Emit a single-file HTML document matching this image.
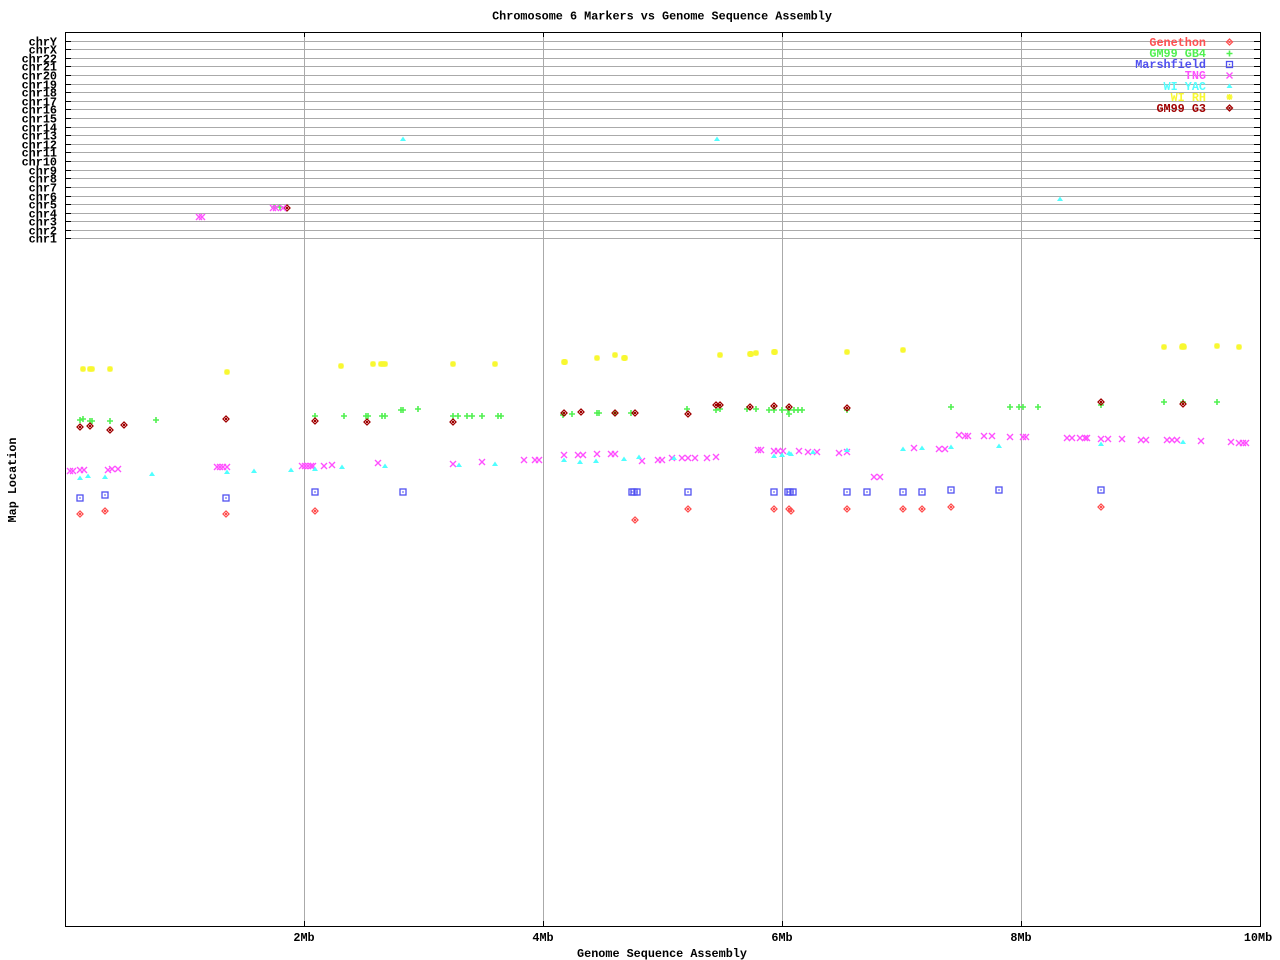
<!DOCTYPE html>
<html><head><meta charset="utf-8"><style>
html,body{margin:0;padding:0;background:#fff;}
svg{display:block;}
text{font-family:"Liberation Mono",monospace;font-size:11.8px;font-weight:600;}
</style></head><body>
<svg width="1280" height="960" viewBox="0 0 1280 960" xmlns="http://www.w3.org/2000/svg">
<defs>
<g id="dia"><path d="M0,-3 L3,0 L0,3 L-3,0Z" fill="none" stroke-width="1.3"/><rect x="-1" y="-1" width="2" height="2" stroke="none"/></g>
<g id="pl"><path d="M-3,0 H3 M0,-3 V3" fill="none" stroke-width="1.6"/></g>
<g id="sq"><rect x="-3" y="-3" width="6" height="6" fill="none" stroke-width="1.3"/><rect x="-0.7" y="-0.7" width="1.4" height="1.4" stroke="none"/></g>
<g id="xx"><path d="M-3,-3 L3,3 M3,-3 L-3,3" fill="none" stroke-width="1.4"/></g>
<g id="tr"><path d="M0,-2.5 L3,2 L-3,2Z" stroke="none"/></g>
<g id="st"><path d="M-3,0 H3 M0,-3 V3 M-2.3,-2.3 L2.3,2.3 M2.3,-2.3 L-2.3,2.3" fill="none" stroke-width="1.5"/></g>
</defs>
<rect width="1280" height="960" fill="#fff"/>
<text x="662" y="19.5" text-anchor="middle">Chromosome 6 Markers vs Genome Sequence Assembly</text>

<g stroke="#aaaaaa" stroke-width="1">
<path d="M65,41.5H1260M65,49.5H1260M65,58.5H1260M65,66.5H1260M65,75.5H1260M65,84.5H1260M65,92.5H1260M65,101.5H1260M65,109.5H1260M65,118.5H1260M65,127.5H1260M65,135.5H1260M65,144.5H1260M65,152.5H1260M65,161.5H1260M65,170.5H1260M65,178.5H1260M65,187.5H1260M65,196.5H1260M65,204.5H1260M65,213.5H1260M65,221.5H1260M65,230.5H1260M65,238.5H1260"/>
<path d="M304.5,32V926M543.5,32V926M782.5,32V926M1021.5,32V926"/>
</g>
<g stroke="#000" stroke-width="1">
<rect x="65.5" y="32.5" width="1195" height="894" fill="none"/>
<path d="M65,41.5H71M65,49.5H71M65,58.5H71M65,66.5H71M65,75.5H71M65,84.5H71M65,92.5H71M65,101.5H71M65,109.5H71M65,118.5H71M65,127.5H71M65,135.5H71M65,144.5H71M65,152.5H71M65,161.5H71M65,170.5H71M65,178.5H71M65,187.5H71M65,196.5H71M65,204.5H71M65,213.5H71M65,221.5H71M65,230.5H71M65,238.5H71"/>
<path d="M1254,41.5H1260M1254,49.5H1260M1254,58.5H1260M1254,66.5H1260M1254,75.5H1260M1254,84.5H1260M1254,92.5H1260M1254,101.5H1260M1254,109.5H1260M1254,118.5H1260M1254,127.5H1260M1254,135.5H1260M1254,144.5H1260M1254,152.5H1260M1254,161.5H1260M1254,170.5H1260M1254,178.5H1260M1254,187.5H1260M1254,196.5H1260M1254,204.5H1260M1254,213.5H1260M1254,221.5H1260M1254,230.5H1260M1254,238.5H1260"/>
<path d="M304.5,32V37M543.5,32V37M782.5,32V37M1021.5,32V37M304.5,921V926M543.5,921V926M782.5,921V926M1021.5,921V926"/>
</g>
<g text-anchor="end">
<text x="57" y="45.5">chrY</text><text x="57" y="53.5">chrX</text><text x="57" y="62.5">chr22</text><text x="57" y="70.5">chr21</text><text x="57" y="79.5">chr20</text><text x="57" y="88.5">chr19</text><text x="57" y="96.5">chr18</text><text x="57" y="105.5">chr17</text><text x="57" y="113.5">chr16</text><text x="57" y="122.5">chr15</text><text x="57" y="131.5">chr14</text><text x="57" y="139.5">chr13</text><text x="57" y="148.5">chr12</text><text x="57" y="156.5">chr11</text><text x="57" y="165.5">chr10</text><text x="57" y="174.5">chr9</text><text x="57" y="182.5">chr8</text><text x="57" y="191.5">chr7</text><text x="57" y="200.5">chr6</text><text x="57" y="208.5">chr5</text><text x="57" y="217.5">chr4</text><text x="57" y="225.5">chr3</text><text x="57" y="234.5">chr2</text><text x="57" y="242.5">chr1</text>
</g>
<g text-anchor="middle">
<text x="304" y="941">2Mb</text><text x="543" y="941">4Mb</text><text x="782" y="941">6Mb</text><text x="1021" y="941">8Mb</text><text x="1258" y="941">10Mb</text>
<text x="662" y="957">Genome Sequence Assembly</text>
<text x="0" y="0" transform="translate(16,480) rotate(-90)">Map Location</text>
</g>

<!-- Legend -->
<g text-anchor="end">
<text x="1206" y="46" fill="#ff5050">Genethon</text>
<text x="1206" y="57" fill="#50f050">GM99 GB4</text>
<text x="1206" y="68" fill="#5050f0">Marshfield</text>
<text x="1206" y="79" fill="#ff50ff">TNG</text>
<text x="1206" y="90" fill="#50ffff">WI YAC</text>
<text x="1206" y="101" fill="#f8f830">WI RH</text>
<text x="1206" y="112" fill="#a00000">GM99 G3</text>
</g>
<use href="#dia" x="1229.5" y="42" stroke="#ff5050" fill="#ff5050"/>
<use href="#pl" x="1229.5" y="53.5" stroke="#50f050"/>
<use href="#sq" x="1229.5" y="64.5" stroke="#5050f0" fill="#5050f0"/>
<use href="#xx" x="1229.5" y="75.5" stroke="#ff50ff"/>
<use href="#tr" x="1229.5" y="86" fill="#50ffff"/>
<use href="#st" x="1229.5" y="97" stroke="#f8f830"/>
<use href="#dia" x="1229.5" y="108" stroke="#a00000" fill="#a00000"/>

<!-- WI RH yellow -->
<g stroke="#f8f830">
<use href="#st" x="83" y="369"/><use href="#st" x="90" y="369"/><use href="#st" x="92" y="369"/><use href="#st" x="110" y="369"/><use href="#st" x="227" y="372"/><use href="#st" x="341" y="366"/><use href="#st" x="373" y="364"/><use href="#st" x="381" y="364"/><use href="#st" x="383" y="364"/><use href="#st" x="385" y="364"/><use href="#st" x="453" y="364"/><use href="#st" x="495" y="364"/><use href="#st" x="564" y="362"/><use href="#st" x="565" y="362"/><use href="#st" x="597" y="358"/><use href="#st" x="615" y="355"/><use href="#st" x="624" y="358"/><use href="#st" x="625" y="358"/><use href="#st" x="720" y="355"/><use href="#st" x="750" y="354"/><use href="#st" x="751" y="354"/><use href="#st" x="756" y="353"/><use href="#st" x="774" y="352"/><use href="#st" x="775" y="352"/><use href="#st" x="847" y="352"/><use href="#st" x="903" y="350"/><use href="#st" x="1164" y="347"/><use href="#st" x="1182" y="347"/><use href="#st" x="1184" y="347"/><use href="#st" x="1183" y="346"/><use href="#st" x="1217" y="346"/><use href="#st" x="1239" y="347"/>
</g>

<!-- GM99 GB4 green -->
<g stroke="#50f050">
<use href="#pl" x="80" y="420"/><use href="#pl" x="83" y="419"/><use href="#pl" x="90" y="421"/><use href="#pl" x="92" y="421"/><use href="#pl" x="110" y="421"/><use href="#pl" x="156" y="420"/><use href="#pl" x="315" y="416"/><use href="#pl" x="344" y="416"/><use href="#pl" x="366" y="416"/><use href="#pl" x="368" y="416"/><use href="#pl" x="382" y="416"/><use href="#pl" x="385" y="416"/><use href="#pl" x="401" y="410"/><use href="#pl" x="403" y="410"/><use href="#pl" x="418" y="409"/><use href="#pl" x="453" y="416"/><use href="#pl" x="458" y="416"/><use href="#pl" x="467" y="416"/><use href="#pl" x="472" y="416"/><use href="#pl" x="482" y="416"/><use href="#pl" x="498" y="416"/><use href="#pl" x="501" y="416"/><use href="#pl" x="563" y="415"/><use href="#pl" x="572" y="414"/><use href="#pl" x="597" y="413"/><use href="#pl" x="599" y="413"/><use href="#pl" x="615" y="413"/><use href="#pl" x="631" y="413"/><use href="#pl" x="687" y="409"/><use href="#pl" x="716" y="410"/><use href="#pl" x="720" y="409"/><use href="#pl" x="747" y="409"/><use href="#pl" x="756" y="409"/><use href="#pl" x="769" y="410"/><use href="#pl" x="774" y="410"/><use href="#pl" x="782" y="410"/><use href="#pl" x="788" y="410"/><use href="#pl" x="794" y="410"/><use href="#pl" x="798" y="410"/><use href="#pl" x="802" y="410"/><use href="#pl" x="789" y="414"/><use href="#pl" x="847" y="410"/><use href="#pl" x="951" y="407"/><use href="#pl" x="1010" y="407"/><use href="#pl" x="1019" y="407"/><use href="#pl" x="1023" y="407"/><use href="#pl" x="1038" y="407"/><use href="#pl" x="1101" y="405"/><use href="#pl" x="1164" y="402"/><use href="#pl" x="1183" y="402"/><use href="#pl" x="1217" y="402"/>
<use href="#pl" x="274" y="207"/><use href="#pl" x="280" y="207"/>
</g>

<!-- GM99 G3 dark red -->
<g stroke="#a00000" fill="#a00000">
<use href="#dia" x="80" y="427"/><use href="#dia" x="90" y="426"/><use href="#dia" x="110" y="430"/><use href="#dia" x="124" y="425"/><use href="#dia" x="226" y="419"/><use href="#dia" x="315" y="421"/><use href="#dia" x="367" y="422"/><use href="#dia" x="453" y="422"/><use href="#dia" x="564" y="413"/><use href="#dia" x="581" y="412"/><use href="#dia" x="615" y="413"/><use href="#dia" x="635" y="413"/><use href="#dia" x="688" y="414"/><use href="#dia" x="716" y="405"/><use href="#dia" x="720" y="405"/><use href="#dia" x="750" y="407"/><use href="#dia" x="774" y="406"/><use href="#dia" x="789" y="407"/><use href="#dia" x="847" y="408"/><use href="#dia" x="1101" y="402"/><use href="#dia" x="1183" y="404"/>
<use href="#dia" x="287" y="208"/>
</g>

<!-- TNG magenta -->
<g stroke="#ff50ff">
<use href="#xx" x="70" y="471"/><use href="#xx" x="73" y="471"/><use href="#xx" x="80" y="470"/><use href="#xx" x="84" y="470"/><use href="#xx" x="108" y="470"/><use href="#xx" x="112" y="469"/><use href="#xx" x="118" y="469"/><use href="#xx" x="217" y="467"/><use href="#xx" x="220" y="467"/><use href="#xx" x="223" y="467"/><use href="#xx" x="227" y="467"/><use href="#xx" x="302" y="466"/><use href="#xx" x="305" y="466"/><use href="#xx" x="308" y="466"/><use href="#xx" x="311" y="466"/><use href="#xx" x="313" y="466"/><use href="#xx" x="324" y="466"/><use href="#xx" x="332" y="465"/><use href="#xx" x="378" y="463"/><use href="#xx" x="453" y="464"/><use href="#xx" x="482" y="462"/><use href="#xx" x="524" y="460"/><use href="#xx" x="535" y="460"/><use href="#xx" x="539" y="460"/><use href="#xx" x="564" y="455"/><use href="#xx" x="578" y="455"/><use href="#xx" x="583" y="455"/><use href="#xx" x="597" y="454"/><use href="#xx" x="611" y="454"/><use href="#xx" x="615" y="454"/><use href="#xx" x="642" y="461"/><use href="#xx" x="658" y="460"/><use href="#xx" x="662" y="460"/><use href="#xx" x="672" y="458"/><use href="#xx" x="682" y="458"/><use href="#xx" x="688" y="458"/><use href="#xx" x="695" y="458"/><use href="#xx" x="707" y="458"/><use href="#xx" x="716" y="457"/><use href="#xx" x="758" y="450"/><use href="#xx" x="761" y="450"/><use href="#xx" x="774" y="451"/><use href="#xx" x="778" y="451"/><use href="#xx" x="783" y="451"/><use href="#xx" x="799" y="451"/><use href="#xx" x="808" y="452"/><use href="#xx" x="817" y="452"/><use href="#xx" x="839" y="453"/><use href="#xx" x="847" y="452"/><use href="#xx" x="874" y="477"/><use href="#xx" x="880" y="477"/><use href="#xx" x="914" y="448"/><use href="#xx" x="939" y="449"/><use href="#xx" x="945" y="449"/><use href="#xx" x="959" y="435"/><use href="#xx" x="965" y="436"/><use href="#xx" x="968" y="436"/><use href="#xx" x="984" y="436"/><use href="#xx" x="992" y="436"/><use href="#xx" x="1010" y="437"/><use href="#xx" x="1023" y="437"/><use href="#xx" x="1026" y="437"/><use href="#xx" x="1067" y="438"/><use href="#xx" x="1072" y="438"/><use href="#xx" x="1080" y="438"/><use href="#xx" x="1085" y="438"/><use href="#xx" x="1087" y="438"/><use href="#xx" x="1101" y="439"/><use href="#xx" x="1108" y="439"/><use href="#xx" x="1122" y="439"/><use href="#xx" x="1141" y="440"/><use href="#xx" x="1146" y="440"/><use href="#xx" x="1167" y="440"/><use href="#xx" x="1172" y="440"/><use href="#xx" x="1177" y="440"/><use href="#xx" x="1201" y="441"/><use href="#xx" x="1231" y="442"/><use href="#xx" x="1239" y="443"/><use href="#xx" x="1243" y="443"/><use href="#xx" x="1246" y="443"/>
<use href="#xx" x="199" y="217"/><use href="#xx" x="202" y="217"/><use href="#xx" x="273" y="208"/><use href="#xx" x="276" y="208"/><use href="#xx" x="283" y="208"/>
</g>

<!-- WI YAC cyan -->
<g fill="#50ffff">
<use href="#tr" x="80" y="478"/><use href="#tr" x="88" y="476"/><use href="#tr" x="105" y="477"/><use href="#tr" x="152" y="474"/><use href="#tr" x="227" y="472"/><use href="#tr" x="254" y="471"/><use href="#tr" x="291" y="470"/><use href="#tr" x="315" y="469"/><use href="#tr" x="342" y="467"/><use href="#tr" x="385" y="466"/><use href="#tr" x="459" y="465"/><use href="#tr" x="495" y="464"/><use href="#tr" x="564" y="460"/><use href="#tr" x="580" y="462"/><use href="#tr" x="596" y="461"/><use href="#tr" x="624" y="459"/><use href="#tr" x="639" y="457"/><use href="#tr" x="674" y="458"/><use href="#tr" x="774" y="456"/><use href="#tr" x="782" y="455"/><use href="#tr" x="789" y="453"/><use href="#tr" x="791" y="454"/><use href="#tr" x="813" y="452"/><use href="#tr" x="847" y="450"/><use href="#tr" x="903" y="449"/><use href="#tr" x="922" y="448"/><use href="#tr" x="951" y="447"/><use href="#tr" x="999" y="446"/><use href="#tr" x="1101" y="444"/><use href="#tr" x="1183" y="442"/>
<use href="#tr" x="403" y="139"/><use href="#tr" x="717" y="139"/><use href="#tr" x="1060" y="199"/>
</g>

<!-- Marshfield blue -->
<g stroke="#5050f0" fill="#5050f0">
<use href="#sq" x="80" y="498"/><use href="#sq" x="105" y="495"/><use href="#sq" x="226" y="498"/><use href="#sq" x="315" y="492"/><use href="#sq" x="403" y="492"/><use href="#sq" x="632" y="492"/><use href="#sq" x="634" y="492"/><use href="#sq" x="637" y="492"/><use href="#sq" x="688" y="492"/><use href="#sq" x="774" y="492"/><use href="#sq" x="788" y="492"/><use href="#sq" x="790" y="492"/><use href="#sq" x="793" y="492"/><use href="#sq" x="847" y="492"/><use href="#sq" x="867" y="492"/><use href="#sq" x="903" y="492"/><use href="#sq" x="922" y="492"/><use href="#sq" x="951" y="490"/><use href="#sq" x="999" y="490"/><use href="#sq" x="1101" y="490"/>
</g>

<!-- Genethon red -->
<g stroke="#ff5050" fill="#ff5050">
<use href="#dia" x="80" y="514"/><use href="#dia" x="105" y="511"/><use href="#dia" x="226" y="514"/><use href="#dia" x="315" y="511"/><use href="#dia" x="635" y="520"/><use href="#dia" x="688" y="509"/><use href="#dia" x="774" y="509"/><use href="#dia" x="789" y="509"/><use href="#dia" x="791" y="511"/><use href="#dia" x="847" y="509"/><use href="#dia" x="903" y="509"/><use href="#dia" x="922" y="509"/><use href="#dia" x="951" y="507"/><use href="#dia" x="1101" y="507"/>
</g>
</svg>
</body></html>
